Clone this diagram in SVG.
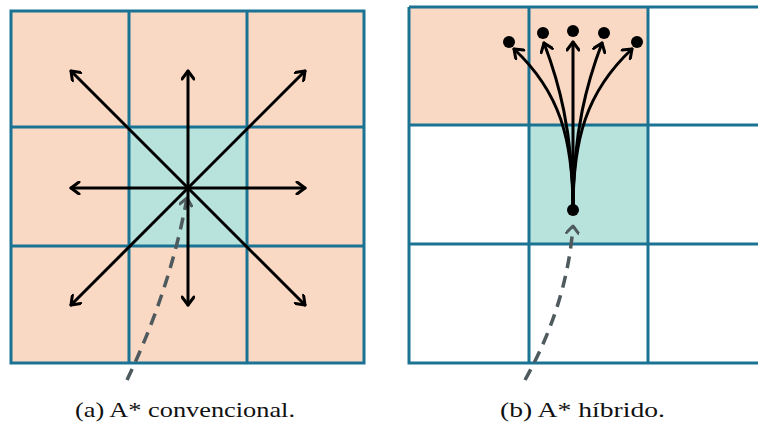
<svg xmlns="http://www.w3.org/2000/svg" width="758" height="423" viewBox="0 0 758 423">
<style>
.peach{fill:#F9D9C3}
.teal{fill:#B8E2DC}
.white{fill:#FFFFFF}
.grid{fill:none;stroke:#1B7393;stroke-width:3}
.arr{fill:none;stroke:#000;stroke-width:3;stroke-linecap:round}
.dash{fill:none;stroke:#4F5A5E;stroke-width:3.5;stroke-dasharray:12 8}
.cap{font-family:"Liberation Serif","DejaVu Serif",serif;font-size:21px;fill:#111}
</style>
<defs>
<marker id="ah" viewBox="-10 -7 12 14" markerWidth="12" markerHeight="14" refX="0" refY="0" orient="auto" markerUnits="userSpaceOnUse">
<path d="M-8,-6 L0,0 L-8,6" fill="none" stroke="#000" stroke-width="3" stroke-linecap="round" stroke-linejoin="round"/>
</marker>
<marker id="ahg" viewBox="-10 -7 12 14" markerWidth="12" markerHeight="14" refX="0" refY="0" orient="auto" markerUnits="userSpaceOnUse">
<path d="M-7,-6 L0,0 L-7,6" fill="none" stroke="#4F5A5E" stroke-width="3" stroke-linecap="round" stroke-linejoin="round"/>
</marker>
</defs>
<rect width="758" height="423" fill="#fff"/>
<g id="gridA">
<rect class="peach" x="11" y="11" width="353" height="352"/>
<rect class="teal" x="129" y="127" width="118" height="119"/>
<path class="grid" d="M11,11H364V363H11Z M129,11V363 M247,11V363 M11,127H364 M11,246H364"/>
</g>
<g id="gridB">
<rect class="peach" x="409" y="7" width="239" height="118"/>
<rect class="teal" x="529" y="125" width="119" height="119"/>
<path class="grid" d="M409,7H760 M409,7V363H760 M529,7V363 M648,7V363 M409,125H760 M409,244H760"/>
</g>
<g id="nodesB">
<circle cx="573" cy="210" r="6"/>
<circle cx="509" cy="42" r="6"/>
<circle cx="543" cy="33" r="6"/>
<circle cx="573" cy="31" r="6"/>
<circle cx="604" cy="33" r="6"/>
<circle cx="637" cy="42" r="6"/>
</g>
<g id="connectors">
<path class="dash" d="M127,380 Q170,290 187,198" marker-end="url(#ahg)"/>
<g class="arr">
<path d="M188,188 L71,71" marker-end="url(#ah)"/>
<path d="M188,188 L188,71" marker-end="url(#ah)"/>
<path d="M188,188 L305,71" marker-end="url(#ah)"/>
<path d="M188,188 L71,188" marker-end="url(#ah)"/>
<path d="M188,188 L305,188" marker-end="url(#ah)"/>
<path d="M188,188 L71,305" marker-end="url(#ah)"/>
<path d="M188,188 L188,305" marker-end="url(#ah)"/>
<path d="M188,188 L305,305" marker-end="url(#ah)"/>
</g>
<path class="dash" d="M525,380 Q567,305 573,226" marker-end="url(#ahg)"/>
<g class="arr">
<path d="M573,210 C573,140 560,92 514,49" marker-end="url(#ah)"/>
<path d="M573,210 C573,130 558,80 544,43" marker-end="url(#ah)"/>
<path d="M573,210 L573,42" marker-end="url(#ah)"/>
<path d="M573,210 C573,130 588,80 602,43" marker-end="url(#ah)"/>
<path d="M573,210 C573,140 586,92 632,49" marker-end="url(#ah)"/>
</g>
</g>
<text class="cap" x="75" y="417" textLength="220" lengthAdjust="spacingAndGlyphs">(a) A* convencional.</text>
<text class="cap" x="500" y="417" textLength="165" lengthAdjust="spacingAndGlyphs">(b) A* híbrido.</text>
</svg>
